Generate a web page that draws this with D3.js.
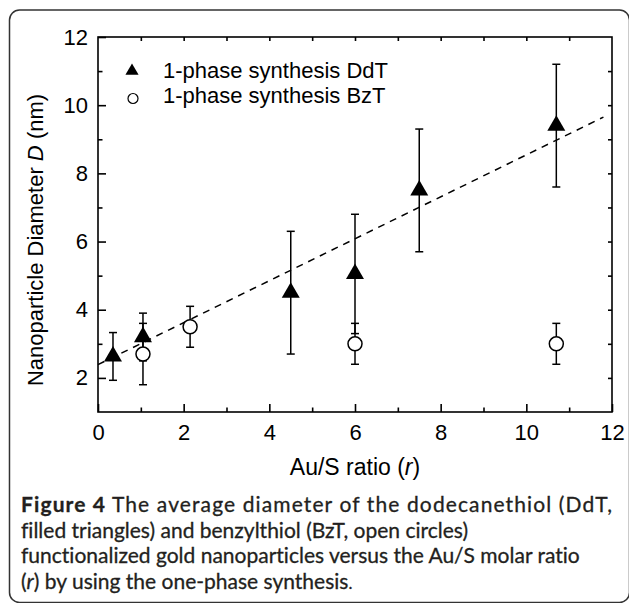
<!DOCTYPE html>
<html>
<head>
<meta charset="utf-8">
<script src="https://cdn.jsdelivr.net/npm/d3@7"></script>
<style>
  html, body { margin: 0; padding: 0; background: #fff; }
  svg { display: block; }
</style>
</head>
<body>
<svg id="chart" width="629" height="603"></svg>
<script>
// ---- data ----
const ddtX   = [0.35, 1.05, 4.5, 6.0, 7.5, 10.7];
const ddtY   = [2.63, 3.2, 4.5, 5.05, 7.5, 9.4];
const ddtErr = [0.7, 0.7, 1.8, 1.75, 1.8, 1.8];

const bztX   = [1.05, 2.15, 6.0, 10.7];
const bztY   = [2.7, 3.5, 3.0, 3.0];
const bztErr = [0.9, 0.6, 0.6, 0.6];

const fitX = [0, 11.8];
const fitY = [2.39, 9.65];

const xTickLabels = [0, 2, 4, 6, 8, 10, 12];
const yTickLabels = [2, 4, 6, 8, 10, 12];
const xMinorTicks = [1, 3, 5, 7, 9, 11];
const yMinorTicks = [3, 5, 7, 9, 11];

const legendLabels = ["1-phase synthesis DdT", "1-phase synthesis BzT"];

const captionLines = [
  [{t: "Figure 4", b: true}, {t: " The average diameter of the dodecanethiol (DdT,"}],
  [{t: "filled triangles) and benzylthiol (BzT, open circles)"}],
  [{t: "functionalized gold nanoparticles versus the Au/S molar ratio"}],
  [{t: "("}, {t: "r", i: true}, {t: ") by using the one-phase synthesis"}, {t: ".", small: true}]
];

// ---- layout ----
const svg = d3.select("#chart");
const L = 98, R = 612, T = 37, B = 412;
const x = d3.scaleLinear().domain([0, 12]).range([L, R]);
const y = d3.scaleLinear().domain([1, 12]).range([B, T]);
const axisFont = "'Liberation Sans', Arial, sans-serif";

// outer frame
svg.append("rect")
  .attr("x", 9.5).attr("y", 10).attr("width", 620).attr("height", 592.5)
  .attr("rx", 10).attr("ry", 10)
  .attr("fill", "none").attr("stroke", "#333").attr("stroke-width", 1.5);

const g = svg.append("g");

// axes (ticks inward)
const sw = 1.6;
const bottomAxis = d3.axisBottom(x).tickValues(xTickLabels).tickSize(-8).tickPadding(12).tickFormat(d3.format("d"));
const bottomMinor = d3.axisBottom(x).tickValues(xMinorTicks).tickSize(-4.5).tickFormat("");
const leftAxis = d3.axisLeft(y).tickValues(yTickLabels).tickSize(-8).tickPadding(10).tickFormat(d3.format("d"));
const leftMinor = d3.axisLeft(y).tickValues(yMinorTicks).tickSize(-4.5).tickFormat("");
const topAxis = d3.axisTop(x).tickValues(d3.range(1, 12)).tickSize(-4).tickFormat("");
const rightAxis = d3.axisRight(y).tickValues(d3.range(2, 12)).tickSize(-4).tickFormat("");

function styleAxis(sel) {
  sel.selectAll("path.domain").attr("stroke", "#000").attr("stroke-width", sw);
  sel.selectAll(".tick line").attr("stroke", "#000").attr("stroke-width", sw);
  sel.selectAll(".tick text").attr("font-family", axisFont).attr("font-size", 22).attr("fill", "#000");
}
styleAxis(g.append("g").attr("transform", `translate(0,${B})`).call(bottomAxis));
styleAxis(g.append("g").attr("transform", `translate(0,${B})`).call(bottomMinor));
styleAxis(g.append("g").attr("transform", `translate(${L},0)`).call(leftAxis));
styleAxis(g.append("g").attr("transform", `translate(${L},0)`).call(leftMinor));
styleAxis(g.append("g").attr("transform", `translate(0,${T})`).call(topAxis));
styleAxis(g.append("g").attr("transform", `translate(${R},0)`).call(rightAxis));
g.selectAll("path.domain").attr("d", null);
// frame of the plot area
g.append("rect").attr("x", L).attr("y", T).attr("width", R - L).attr("height", B - T)
  .attr("fill", "none").attr("stroke", "#000").attr("stroke-width", sw);

// axis titles
const yt = g.append("text")
  .attr("transform", `translate(43,240) rotate(-90)`)
  .attr("text-anchor", "middle").attr("font-family", axisFont).attr("font-size", 22).attr("fill", "#000");
yt.append("tspan").text("Nanoparticle Diameter ");
yt.append("tspan").attr("font-style", "italic").text("D");
yt.append("tspan").text(" (nm)");

const xt = g.append("text")
  .attr("x", (L + R) / 2).attr("y", 475)
  .attr("text-anchor", "middle").attr("font-family", axisFont).attr("font-size", 23).attr("fill", "#000");
xt.append("tspan").text("Au/S ratio (");
xt.append("tspan").attr("font-style", "italic").text("r");
xt.append("tspan").text(")");

// fit line
g.append("line")
  .attr("x1", x(fitX[0])).attr("y1", y(fitY[0]))
  .attr("x2", x(fitX[1])).attr("y2", y(fitY[1]))
  .attr("stroke", "#000").attr("stroke-width", 1.5).attr("stroke-dasharray", "7,6");

// error bars
function errBars(xs, ys, es) {
  const data = xs.map((v, i) => ({x: v, y: ys[i], e: es[i]}));
  const eg = g.append("g").attr("stroke", "#000").attr("stroke-width", 1.5);
  eg.selectAll(".v").data(data).join("line")
    .attr("x1", d => x(d.x)).attr("x2", d => x(d.x))
    .attr("y1", d => y(d.y - d.e)).attr("y2", d => y(d.y + d.e));
  eg.selectAll(".t").data(data).join("line")
    .attr("x1", d => x(d.x) - 4).attr("x2", d => x(d.x) + 4)
    .attr("y1", d => y(d.y + d.e)).attr("y2", d => y(d.y + d.e));
  eg.selectAll(".b").data(data).join("line")
    .attr("x1", d => x(d.x) - 4).attr("x2", d => x(d.x) + 4)
    .attr("y1", d => y(d.y - d.e)).attr("y2", d => y(d.y - d.e));
}
errBars(ddtX, ddtY, ddtErr);
errBars(bztX, bztY, bztErr);

// markers
const tri = d3.symbol().type(d3.symbolTriangle).size(140);
g.append("g").selectAll("path").data(ddtX.map((v, i) => [v, ddtY[i]])).join("path")
  .attr("d", tri).attr("transform", d => `translate(${x(d[0])},${y(d[1])})`)
  .attr("fill", "#000");
g.append("g").selectAll("circle").data(bztX.map((v, i) => [v, bztY[i]])).join("circle")
  .attr("cx", d => x(d[0])).attr("cy", d => y(d[1])).attr("r", 7)
  .attr("fill", "#fff").attr("stroke", "#000").attr("stroke-width", 1.5);

// legend
const lg = g.append("g");
lg.append("path").attr("d", d3.symbol().type(d3.symbolTriangle).size(75)())
  .attr("transform", "translate(132,71)").attr("fill", "#000");
lg.append("circle").attr("cx", 133).attr("cy", 98.5).attr("r", 5)
  .attr("fill", "#fff").attr("stroke", "#000").attr("stroke-width", 1.2);
lg.selectAll("text").data(legendLabels).join("text")
  .attr("x", 163).attr("y", (d, i) => 78 + i * 25)
  .attr("font-family", axisFont).attr("font-size", 22).attr("fill", "#000")
  .text(d => d);

// caption
const capFont = "Lato, 'Open Sans', sans-serif";
const capSize = 21;
const cap = svg.append("g").attr("fill", "#231f20").attr("font-family", capFont)
  .style("font-variant-ligatures", "none");
captionLines.forEach((line, i) => {
  const t = cap.append("text").attr("x", 21).attr("y", 512 + i * 25.5)
    .attr("font-size", capSize)
    .attr("stroke", "#231f20").attr("stroke-width", 0.3);
  line.forEach(seg => {
    const s = t.append("tspan").text(seg.t);
    if (seg.b) s.attr("font-weight", "bold");
    if (seg.i) s.attr("font-style", "italic");
    if (seg.small) s.attr("font-size", capSize * 0.8);
  });
  // the first caption line is justified to the full text width in the reference
  if (i === 0) t.attr("textLength", 612 - 21).attr("lengthAdjust", "spacing");
});
</script>
</body>
</html>
